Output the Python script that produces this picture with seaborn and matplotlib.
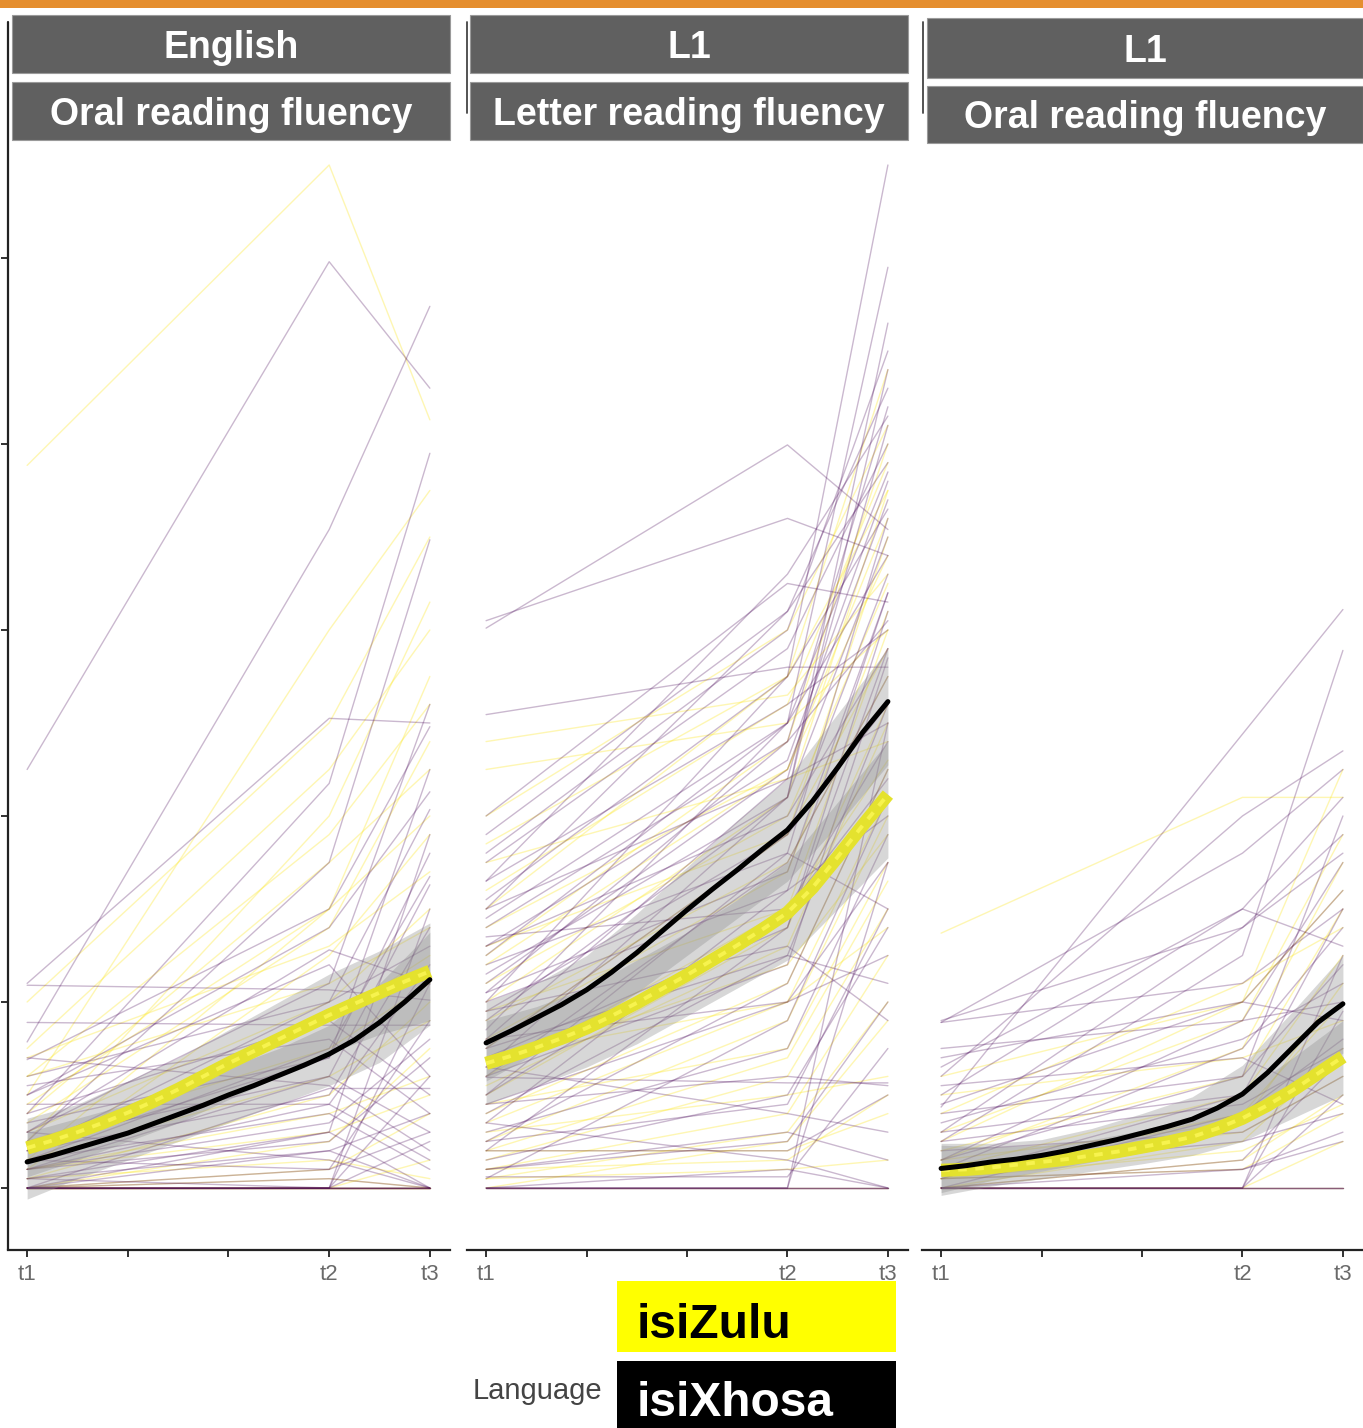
import numpy as np
import pandas as pd
import matplotlib
matplotlib.use("Agg")
import matplotlib.pyplot as plt
from matplotlib.patches import Rectangle
from matplotlib.lines import Line2D
import seaborn as sns

sns.set_theme(style="white")
plt.rcParams["font.family"] = ["Liberation Sans", "DejaVu Sans"]

# ---------------------------------------------------------------- data
strip_top = ["English", "L1", "L1"]
strip_bottom = ["Oral reading fluency", "Letter reading fluency", "Oral reading fluency"]
time_labels = ["t1", "t2", "t3"]
time_pos = [0, 3, 4]
languages = ["isiZulu", "isiXhosa"]

# individual trajectories (t1, t2, t3)
xhosa_eng_orf = [
    (45.0, 99.6, 86.0), (15.7, 70.8, 94.8), (8.0, 43.5, 79.0), (5.0, 35.0, 69.7),
    (22.0, 50.5, 50.0), (21.8, 21.3, 20.2), (17.8, 17.5, 17.5), (13.8, 30.0, 49.6),
    (10.0, 28.0, 42.6), (6.0, 25.6, 21.9), (4.0, 20.0, 40.7), (3.0, 15.0, 33.5),
    (2.0, 12.0, 32.6), (0.0, 10.7, 10.7), (1.0, 6.0, 0.0), (2.0, 5.0, 14.0),
    (0.0, 2.0, 18.0), (0.0, 0.0, 12.0), (0.0, 1.0, 0.0), (3.0, 8.0, 2.0),
    (5.0, 12.0, 6.0), (8.0, 18.0, 10.0), (1.0, 4.0, 8.0), (12.0, 20.0, 26.0),
    (0.0, 0.0, 5.0), (9.0, 9.0, 3.0), (6.0, 3.0, 0.0), (4.0, 10.0, 28.0),
    (0.0, 4.0, 0.0), (2.0, 7.0, 16.0), (7.0, 14.0, 36.0), (0.0, 0.0, 22.0),
    (0.0, 0.0, 30.0), (3.0, 2.0, 6.0), (14.0, 11.0, 4.0), (4.0, 14.0, 45.0),
    (6.0, 22.0, 52.0), (10.0, 24.0, 12.0), (2.0, 9.0, 24.0), (11.0, 16.0, 8.0),
    (0.0, 6.0, 38.0), (0.0, 0.0, 0.0), (0.0, 0.0, 0.0), (0.0, 0.0, 0.0),
    (0.0, 0.0, 0.0), (1.0, 0.0, 0.0),
]
zulu_eng_orf = [
    (77.7, 110.0, 82.6), (10.0, 60.0, 75.0), (5.0, 40.0, 63.0), (3.0, 30.0, 55.0),
    (8.0, 35.0, 45.0), (2.0, 25.0, 38.0), (6.0, 20.0, 30.0), (15.0, 45.0, 60.0),
    (4.0, 18.0, 25.0), (1.0, 10.0, 20.0), (0.0, 5.0, 15.0), (12.0, 22.0, 28.0),
    (0.0, 2.0, 8.0), (2.0, 8.0, 12.0), (0.0, 0.0, 3.0), (1.0, 3.0, 1.0),
    (20.0, 50.0, 70.0), (7.0, 28.0, 48.0), (3.0, 12.0, 18.0), (0.0, 1.0, 0.0),
    (9.0, 30.0, 40.0), (5.0, 15.0, 22.0), (12.0, 38.0, 52.0), (2.0, 6.0, 10.0),
    (14.0, 26.0, 34.0), (0.0, 0.0, 0.0), (0.0, 0.0, 0.0), (0.0, 0.0, 0.0),
]
xhosa_l1_lrf = [
    (60.2, 79.9, 70.8), (61.0, 72.0, 68.0), (50.9, 56.0, 56.0), (20.0, 55.0, 110.0),
    (25.0, 50.0, 99.0), (30.0, 62.0, 86.0), (35.0, 58.0, 80.0), (28.0, 48.0, 84.0),
    (22.0, 45.0, 74.0), (18.0, 42.0, 70.0), (40.0, 65.0, 63.0), (33.0, 52.0, 60.0),
    (26.0, 40.0, 58.0), (15.0, 38.0, 66.0), (12.0, 35.0, 55.0), (10.0, 30.0, 48.0),
    (14.0, 28.0, 62.0), (8.0, 25.0, 52.0), (5.0, 22.0, 45.0), (20.0, 32.0, 40.0),
    (24.0, 36.0, 30.0), (16.0, 20.0, 35.0), (6.0, 15.0, 38.0), (3.0, 10.0, 28.0),
    (9.0, 12.0, 11.0), (11.9, 11.3, 11.3), (2.0, 5.0, 20.0), (0.0, 0.0, 50.0),
    (0.0, 0.0, 35.0), (0.0, 2.0, 0.0), (4.0, 4.0, 10.0), (7.0, 3.0, 0.0),
    (13.0, 8.0, 6.0), (30.0, 44.0, 50.0), (36.0, 60.0, 90.0), (17.0, 50.0, 77.0),
    (19.0, 26.0, 18.0), (27.0, 30.0, 44.0), (1.0, 18.0, 42.0), (1.2, 1.2, 15.0),
    (23.0, 42.0, 88.0), (31.0, 55.0, 73.0), (21.0, 34.0, 64.0), (12.0, 24.0, 57.0),
    (38.0, 62.0, 78.0), (29.0, 50.0, 68.0), (16.0, 44.0, 82.0), (10.0, 36.0, 72.0),
    (7.0, 32.0, 64.0), (21.0, 48.0, 61.0), (13.0, 42.0, 93.0), (4.0, 28.0, 58.0),
    (19.0, 38.0, 52.0), (26.0, 46.0, 76.0), (9.0, 20.0, 25.0), (15.0, 25.0, 22.0),
    (5.0, 9.0, 30.0), (2.0, 6.0, 3.0), (33.0, 66.0, 83.0),
    (0.0, 0.0, 0.0), (0.0, 0.0, 0.0), (0.0, 0.0, 0.0),
]
zulu_l1_lrf = [
    (30.0, 55.0, 88.0), (25.0, 48.0, 80.0), (20.0, 42.0, 75.0), (15.0, 38.0, 70.0),
    (12.0, 30.0, 60.0), (10.0, 28.0, 52.0), (8.0, 22.0, 45.0), (5.0, 18.0, 40.0),
    (18.0, 35.0, 55.0), (22.0, 40.0, 65.0), (3.0, 12.0, 30.0), (2.0, 8.0, 25.0),
    (0.0, 5.0, 18.0), (40.0, 60.0, 82.0), (45.0, 50.0, 60.0), (35.0, 44.0, 48.0),
    (6.0, 10.0, 12.0), (1.0, 2.0, 3.0), (4.0, 4.0, 8.0), (14.0, 20.0, 28.0),
    (9.0, 15.0, 35.0), (28.0, 45.0, 72.0), (2.0, 3.0, 10.0), (32.0, 52.0, 78.0),
    (24.0, 45.0, 68.0), (16.0, 34.0, 62.0), (11.0, 26.0, 50.0), (7.0, 20.0, 42.0),
    (19.0, 30.0, 46.0), (13.0, 24.0, 38.0), (26.0, 38.0, 58.0), (4.0, 14.0, 33.0),
    (1.0, 6.0, 20.0), (37.0, 55.0, 75.0), (48.0, 53.0, 66.0), (0.0, 0.0, 0.0),
]
xhosa_l1_orf = [
    (8.7, 48.8, 62.2), (5.0, 25.0, 57.8), (12.0, 40.0, 47.0), (17.8, 36.0, 45.0),
    (10.0, 30.0, 42.0), (6.0, 28.0, 38.0), (17.8, 22.0, 30.0), (14.0, 20.0, 32.0),
    (3.0, 18.0, 35.0), (2.0, 15.0, 28.0), (8.0, 12.0, 24.0), (1.0, 10.0, 20.0),
    (0.0, 8.0, 16.0), (4.0, 6.0, 12.0), (0.0, 0.0, 25.0), (0.0, 0.0, 19.0),
    (0.0, 0.0, 10.0), (11.0, 14.0, 9.0), (7.0, 16.0, 22.0), (2.0, 5.0, 8.0),
    (0.0, 3.0, 14.0), (9.0, 20.0, 18.0), (13.0, 30.0, 26.0), (15.0, 18.0, 20.0),
    (1.0, 2.0, 5.0), (3.0, 12.0, 40.0), (18.0, 28.0, 36.0), (6.0, 10.0, 30.0),
    (0.0, 2.0, 6.0), (5.0, 9.0, 15.0), (0.0, 0.0, 0.0), (0.0, 0.0, 0.0),
    (0.0, 0.0, 0.0),
]
zulu_l1_orf = [
    (27.4, 42.0, 42.0), (5.0, 20.0, 45.0), (3.0, 15.0, 35.0), (2.0, 10.0, 25.0),
    (1.0, 8.0, 20.0), (0.0, 5.0, 15.0), (0.0, 3.0, 10.0), (4.0, 12.0, 30.0),
    (6.0, 18.0, 38.0), (0.0, 0.0, 5.0), (1.0, 2.0, 8.0), (10.0, 14.0, 18.0),
    (2.0, 6.0, 12.0), (8.0, 22.0, 28.0), (3.0, 7.0, 22.0), (1.0, 4.0, 9.0),
    (12.0, 20.0, 32.0), (0.0, 0.0, 0.0),
]

# smoothed group trends
smooth_x = [0.0, 0.25, 0.5, 0.75, 1.0, 1.25, 1.5, 1.75, 2.0,
            2.25, 2.5, 2.75, 3.0, 3.25, 3.5, 3.75, 4.0]
xhosa_fit = [
    [2.8, 3.5, 4.3, 5.1, 5.9, 6.9, 7.9, 8.9, 10.0,
     11.0, 12.1, 13.2, 14.4, 15.9, 17.8, 20.0, 22.4],
    [15.6, 16.9, 18.3, 19.7, 21.3, 23.2, 25.3, 27.6, 29.9,
     32.1, 34.2, 36.4, 38.5, 41.6, 45.2, 49.0, 52.3],
    [2.1, 2.4, 2.8, 3.1, 3.5, 4.0, 4.6, 5.2, 5.9,
     6.6, 7.4, 8.6, 10.1, 12.4, 15.1, 17.8, 19.8],
]
zulu_fit = [
    [4.3, 5.1, 6.0, 7.0, 8.1, 9.3, 10.6, 12.0, 13.4,
     14.7, 16.0, 17.3, 18.6, 19.8, 21.0, 22.2, 23.3],
    [13.4, 14.2, 15.1, 16.1, 17.2, 18.5, 19.9, 21.4, 22.9,
     24.5, 26.1, 27.8, 29.6, 32.3, 35.6, 39.0, 42.3],
    [1.9, 2.0, 2.2, 2.5, 2.8, 3.1, 3.5, 3.9, 4.4,
     4.9, 5.5, 6.4, 7.5, 8.9, 10.5, 12.3, 14.1],
]

# confidence bands of the trends
band_x = [0.0, 0.5, 1.0, 1.5, 2.0, 2.5, 3.0, 3.5, 4.0]
xhosa_lo = [
    [-1.2, 1.0, 3.0, 5.0, 7.0, 9.0, 11.0, 13.5, 17.5],
    [11.5, 14.5, 17.5, 21.0, 25.0, 29.0, 33.0, 39.0, 45.5],
    [-0.5, 0.8, 1.8, 2.8, 3.8, 5.0, 7.0, 11.0, 14.5],
]
xhosa_hi = [
    [6.0, 7.5, 9.0, 11.0, 13.0, 15.0, 17.5, 22.0, 27.5],
    [20.0, 22.0, 25.0, 29.5, 34.5, 39.5, 44.0, 51.0, 58.0],
    [4.8, 4.8, 5.2, 6.4, 8.0, 9.8, 13.2, 19.0, 25.0],
]
zulu_lo = [
    [1.2, 3.0, 5.0, 7.0, 9.5, 12.0, 14.5, 16.5, 18.0],
    [9.0, 11.0, 13.0, 15.5, 18.5, 21.5, 24.5, 30.0, 35.5],
    [-0.8, 0.2, 1.0, 1.8, 2.6, 3.5, 5.0, 7.5, 10.0],
]
zulu_hi = [
    [7.5, 9.0, 11.5, 14.0, 17.0, 20.0, 23.0, 25.5, 28.5],
    [18.0, 19.5, 21.5, 24.5, 27.5, 31.0, 35.0, 41.5, 48.0],
    [4.6, 4.4, 4.6, 5.2, 6.2, 7.7, 10.2, 14.0, 18.0],
]

panel_lines = [
    (xhosa_eng_orf, zulu_eng_orf),
    (xhosa_l1_lrf, zulu_l1_lrf),
    (xhosa_l1_orf, zulu_l1_orf),
]


def long_table(rows, language):
    recs = []
    for i, vals in enumerate(rows):
        for pos, v in zip(time_pos, vals):
            recs.append({"child": f"{language}-{i}", "language": language,
                         "pos": pos, "value": v})
    return pd.DataFrame(recs)


# ---------------------------------------------------------------- figure
W, H = 1363, 1428
fig = plt.figure(figsize=(W / 100, H / 100), dpi=100)


def fx(x):
    return x / W


def fy(y):
    return 1 - y / H


PURPLE = "#440154"
YELLOW = "#FDE725"
STRIP = "#606060"

panel_px = [(8, 450), (467, 908), (922, 1363)]
ax_top, ax_bot = 145, 1250

for k, (x0, x1) in enumerate(panel_px):
    ax = fig.add_axes([fx(x0), fy(ax_bot), fx(x1 - x0), (ax_bot - ax_top) / H])
    xh, zu = panel_lines[k]
    d_x = long_table(xh, "isiXhosa")
    d_z = long_table(zu, "isiZulu")

    sns.lineplot(data=d_z, x="pos", y="value", units="child", estimator=None,
                 color=YELLOW, alpha=0.35, lw=1.0, legend=False, ax=ax)
    sns.lineplot(data=d_x, x="pos", y="value", units="child", estimator=None,
                 color=PURPLE, alpha=0.28, lw=1.0, legend=False, ax=ax)

    ax.fill_between(band_x, zulu_lo[k], zulu_hi[k], color="#8f8f8f",
                    alpha=0.35, lw=0, zorder=3)
    ax.fill_between(band_x, xhosa_lo[k], xhosa_hi[k], color="#8f8f8f",
                    alpha=0.35, lw=0, zorder=3)

    d_zf = pd.DataFrame({"pos": smooth_x, "value": zulu_fit[k]})
    d_xf = pd.DataFrame({"pos": smooth_x, "value": xhosa_fit[k]})
    sns.lineplot(data=d_zf, x="pos", y="value", color="#E4E22E", lw=9.5,
                 solid_capstyle="butt", solid_joinstyle="round", ax=ax, zorder=4)
    sns.lineplot(data=d_zf, x="pos", y="value", color="#F7F34E", lw=2.8,
                 dashes=(2.2, 2.2), ax=ax, zorder=5)
    sns.lineplot(data=d_xf, x="pos", y="value", color="black", lw=3.6,
                 solid_capstyle="round", solid_joinstyle="round", ax=ax, zorder=6)

    ax.set_xlim(-0.19, 4.2)
    ax.set_ylim(-6.67, 112.15)
    ax.set_xticks([0, 1, 2, 3, 4])
    ax.set_xticklabels([time_labels[0], "", "", time_labels[1], time_labels[2]])
    ax.set_yticks([0, 20, 40, 60, 80, 100])
    ax.set_yticklabels([])
    ax.set_xlabel("")
    ax.set_ylabel("")
    for s in ["top", "right", "left"]:
        ax.spines[s].set_visible(False)
    ax.spines["bottom"].set_color("#222222")
    ax.spines["bottom"].set_linewidth(1.6)
    ax.tick_params(axis="x", length=5, width=1.3, color="#222222",
                   labelsize=16, labelcolor="#6a6a6a", pad=5, bottom=True)
    if k == 0:
        ax.tick_params(axis="y", length=5, width=1.3, color="#222222", left=True)
    else:
        ax.tick_params(axis="y", left=False)
    ax.patch.set_alpha(0)

# left spine of the first panel and its short echoes on the others
fig.add_artist(Line2D([fx(8), fx(8)], [fy(22), fy(1250)], color="#222222",
                      lw=1.6, transform=fig.transFigure))
for xs in (467, 923):
    fig.add_artist(Line2D([fx(xs), fx(xs)], [fy(22), fy(113)], color="#444444",
                          lw=1.3, transform=fig.transFigure))

# orange band along the top
fig.add_artist(Rectangle((0, fy(8)), 1, 8 / H, color="#E58E2E",
                         transform=fig.transFigure, lw=0))

# facet strips
strip_px = [
    (12, 450, (15, 73), (82, 140)),
    (470, 908, (15, 73), (82, 140)),
    (927, 1363, (18, 78), (86, 143)),
]
for k, (sx0, sx1, r1, r2) in enumerate(strip_px):
    for (ry0, ry1), label in ((r1, strip_top[k]), (r2, strip_bottom[k])):
        fig.add_artist(Rectangle((fx(sx0), fy(ry1)), fx(sx1 - sx0), (ry1 - ry0) / H,
                                 facecolor=STRIP, edgecolor="#9a9a9a", lw=0.8,
                                 transform=fig.transFigure))
        fig.text(fx((sx0 + sx1) / 2), fy((ry0 + ry1) / 2), label, color="white",
                 fontsize=27, fontweight="bold", ha="center", va="center_baseline")

# legend
fig.text(fx(602), fy(1388), "Language", color="#444444", fontsize=21,
         ha="right", va="center_baseline")
fig.add_artist(Rectangle((fx(617), fy(1352)), fx(279), 71 / H, facecolor="#FFFF00",
                         lw=0, transform=fig.transFigure))
fig.add_artist(Rectangle((fx(617), 0), fx(279), (H - 1361) / H, facecolor="black",
                         lw=0, transform=fig.transFigure))
fig.text(fx(637), fy(1320), languages[0], color="black", fontsize=34.5,
         fontweight="bold", ha="left", va="center_baseline")
fig.text(fx(637), fy(1398), languages[1], color="white", fontsize=34.5,
         fontweight="bold", ha="left", va="center_baseline")

fig.savefig("out.png", dpi=100, facecolor="white")
